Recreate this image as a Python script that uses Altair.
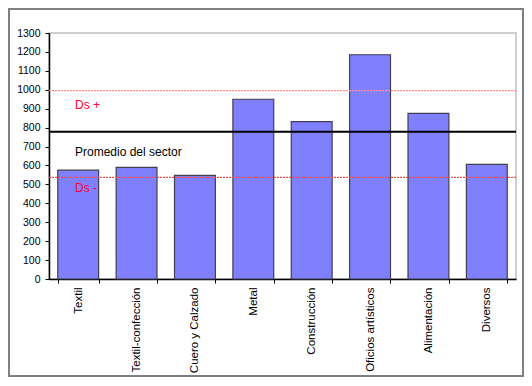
import altair as alt
import pandas as pd

categorias = ["Textil", "Textil-confección", "Cuero y Calzado", "Metal",
              "Construcción", "Oficios artísticos", "Alimentación", "Diversos"]
valores = [575, 590, 548, 950, 832, 1185, 875, 606]
promedio = 778
ds_mas = 995
ds_menos = 537
etiquetas = ["Ds +", "Promedio del sector", "Ds -"]
etiquetas_y = [920, 671, 481]
y_ticks = list(range(0, 1301, 100))

W, H = 467, 246
FONT = "Liberation Sans"

df = pd.DataFrame({"cat": categorias, "val": valores})
lines = pd.DataFrame({"y": [ds_mas, promedio, ds_menos],
                      "kind": ["mas", "prom", "menos"]})
texts = pd.DataFrame({"t": etiquetas, "y": etiquetas_y,
                      "c": ["#ff0033", "#000000", "#ff0033"]})
one = pd.DataFrame({"a": [0]})

yscale = alt.Scale(domain=[0, 1300], nice=False)


def yaxis():
    return alt.Axis(values=y_ticks, format="d", labelOverlap=False,
                    labelFont=FONT, labelFontSize=10.5,
                    labelColor="#000000", domainColor="#000000",
                    domainWidth=1.5, tickColor="#000000", tickSize=4,
                    grid=False, labelPadding=5, title=None)


bars = alt.Chart(df).mark_bar(color="#8080ff", stroke="#404050", strokeWidth=1.2).encode(
    x=alt.X("cat:N", sort=categorias, title=None,
            scale=alt.Scale(paddingInner=0.3, paddingOuter=0.15),
            axis=alt.Axis(labelAngle=-90, labelFont=FONT, labelFontSize=11.5,
                          labelColor="#000000", domainColor="#000000",
                          domainWidth=1.5, tickColor="#000000", tickSize=4,
                          tickBand="extent", labelPadding=4, labelOverlap=False)),
    y=alt.Y("val:Q", scale=yscale, title=None, axis=yaxis()),
)

ds_plus_line = alt.Chart(lines[lines.kind == "mas"]).mark_rule(
    color="#ff9090", strokeDash=[2, 1], strokeWidth=1.2).encode(
    y=alt.Y("y:Q", scale=yscale, title=None, axis=yaxis()))
ds_minus_line = alt.Chart(lines[lines.kind == "menos"]).mark_rule(
    color="#e85050", strokeDash=[2, 1], strokeWidth=1.2).encode(
    y=alt.Y("y:Q", scale=yscale, title=None, axis=yaxis()))
prom_line = alt.Chart(lines[lines.kind == "prom"]).mark_rule(
    color="#000000", strokeWidth=2).encode(
    y=alt.Y("y:Q", scale=yscale, title=None, axis=yaxis()))

labels = alt.Chart(texts).mark_text(align="left", baseline="middle",
                                    font=FONT, fontSize=12).encode(
    x=alt.value(26),
    y=alt.Y("y:Q", scale=yscale, title=None, axis=yaxis()),
    text="t:N",
    color=alt.Color("c:N", scale=None),
)

frame = alt.Chart(one).mark_rect(fill=None, stroke="#808080", strokeWidth=2).encode(
    x=alt.value(-40), x2=alt.value(474), y=alt.value(-24), y2=alt.value(343))

chart = alt.layer(bars, ds_plus_line, ds_minus_line, prom_line, labels, frame).properties(
    width=W, height=H,
    autosize=alt.AutoSizeParams(type="none"),
    padding={"left": 41, "top": 25, "right": 8, "bottom": 102},
    background="#ffffff",
).configure_view(stroke="#c0c0c0", strokeWidth=1.5)

chart.save("out.html", embed_options={"renderer": "svg", "actions": False})
